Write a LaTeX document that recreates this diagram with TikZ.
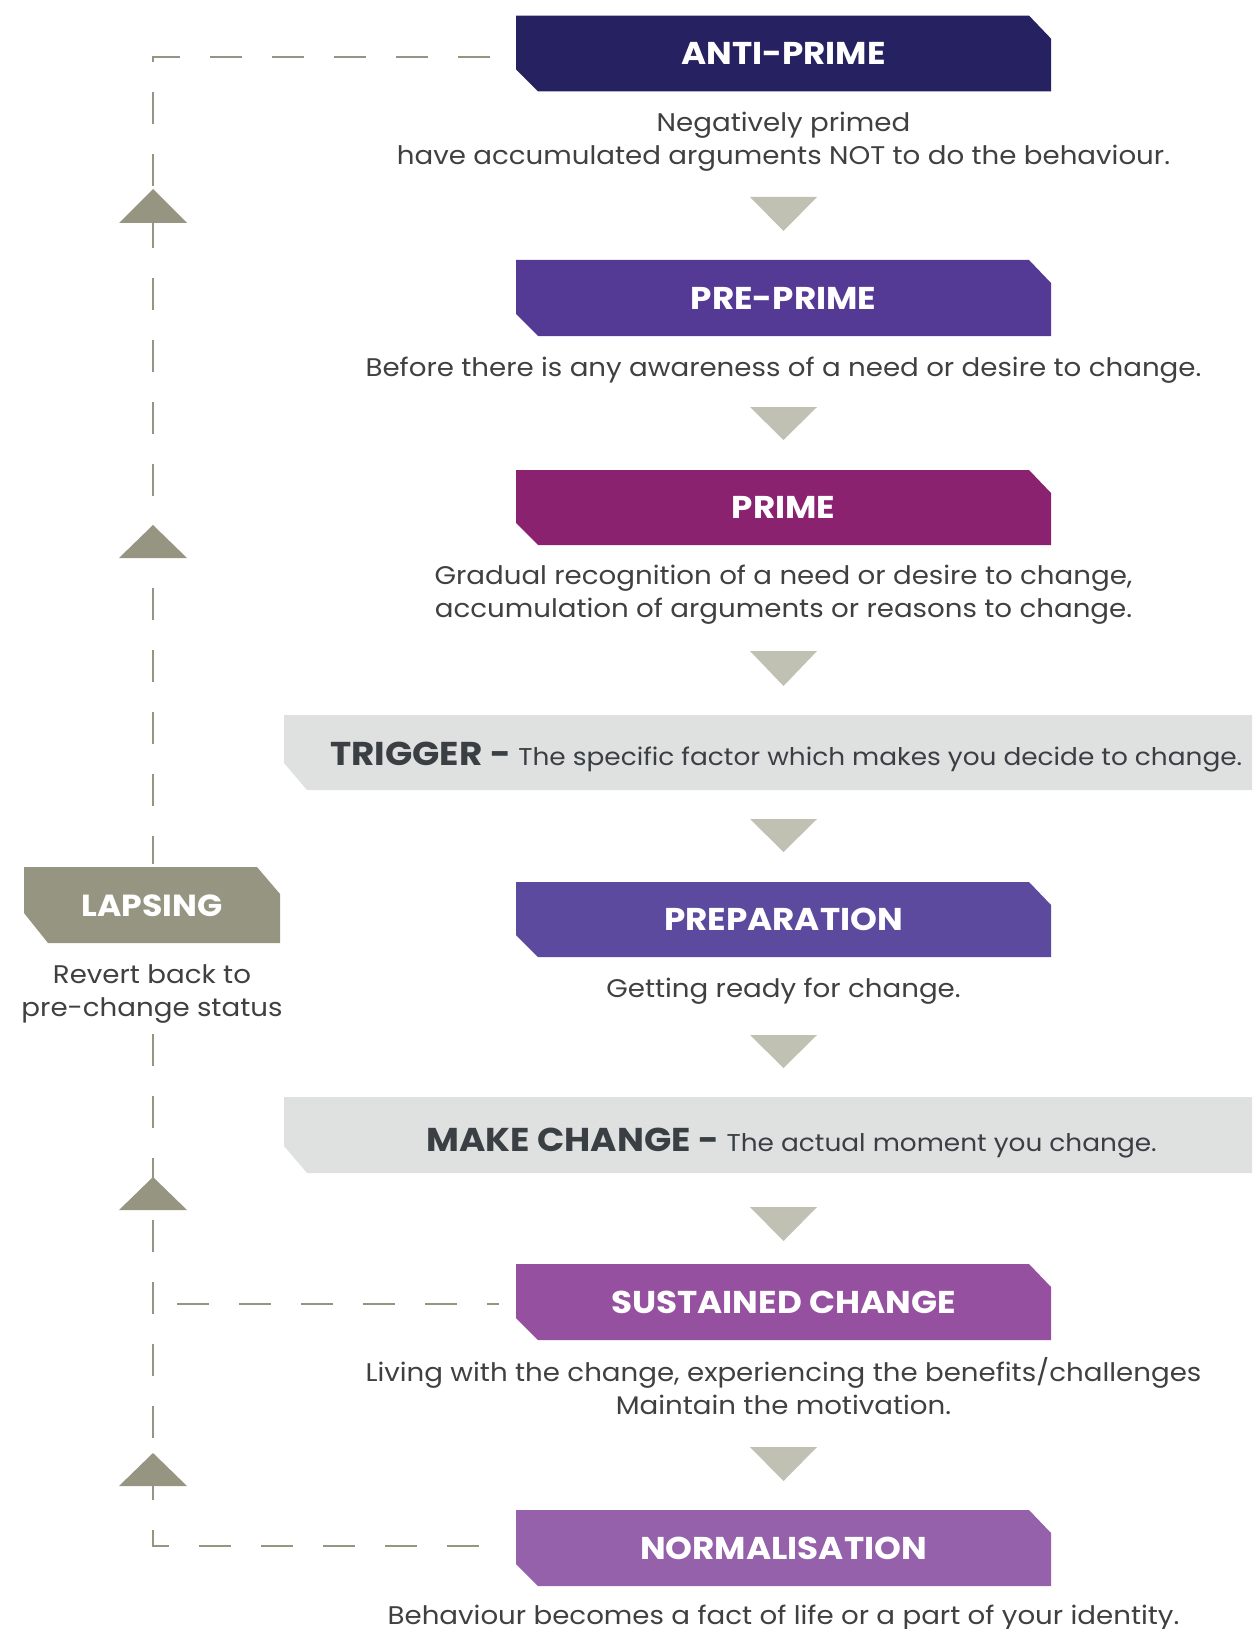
\documentclass[tikz,border=0pt]{standalone}
\usepackage{fontspec}
\setmainfont{Poppins}[FakeStretch=1.085]
\definecolor{cAnti}{HTML}{262262}
\definecolor{cPre}{HTML}{553A95}
\definecolor{cPrime}{HTML}{8A2270}
\definecolor{cPrep}{HTML}{5C4A9E}
\definecolor{cSust}{HTML}{9650A0}
\definecolor{cNorm}{HTML}{9461AA}
\definecolor{cBand}{HTML}{DEE1E0}
\definecolor{cBandTxt}{HTML}{3A3F44}
\definecolor{cDown}{HTML}{C0C0B3}
\definecolor{cOlive}{HTML}{959582}
\definecolor{cBody}{HTML}{404040}
\tikzset{
  stagelabel/.style={text=white,font=\fontsize{31.5}{36}\selectfont\bfseries,inner sep=0pt},
  desc/.style={text=cBody,font=\fontsize{25.5}{33}\selectfont,align=center,inner sep=0pt},
  bandhead/.style={text=cBandTxt,font=\fontsize{33}{38}\selectfont\bfseries,inner sep=0pt,anchor=base west},
  bandtext/.style={text=cBandTxt,font=\fontsize{24.3}{30}\selectfont,inner sep=0pt,anchor=base west},
  loopline/.style={draw=cOlive,line width=2.6pt,dash pattern=on 32pt off 30pt},
  downtri/.style={fill=cDown},
  uptri/.style={fill=cOlive}
}
\newcommand\stagebox[5]{%
  \fill[#2] (516,#3) -- (1029,#3) -- (1051,{#3+23}) -- (1051,#4) -- (538,#4) -- (516,{#4-22}) -- cycle;
  \node[stagelabel] (#1) at (783.5,{(#3+#4)/2}) {#5};}
\newcommand\downtri[3]{%
  \fill[downtri] (750,#2) -- (817,#2) -- (783.5,#3) -- cycle;
  \coordinate (#1) at (783.5,{(#2+#3)/2});}
\newcommand\uptri[3]{%
  \fill[uptri] (119,#3) -- (187,#3) -- (153,#2) -- cycle;
  \coordinate (#1) at (153,{(#2+#3)/2});}
\begin{document}
\begin{tikzpicture}[x=1pt,y=-1pt]
\useasboundingbox (0,0) rectangle (1252,1629);
% loop lines
\coordinate (topR) at (490,57);
\coordinate (topL) at (153,57);
\coordinate (lapTop) at (153,864);
\coordinate (lapBot) at (153,1034);
\coordinate (botL) at (153,1546);
\coordinate (botR) at (499,1546);
\coordinate (sustL) at (177,1304);
\coordinate (sustR) at (499,1304);
\draw[loopline] (topR) -- (topL) -- (lapTop);
\draw[loopline] (lapBot) -- (botL) -- (botR);
\draw[loopline] (sustL) -- (sustR);
% up triangles
\uptri{u1}{189}{223}
\uptri{u2}{525}{558}
\uptri{u3}{1177}{1210}
\uptri{u4}{1453}{1486}
% lapsing
\fill[cOlive] (24,867) -- (257,867) -- (280,894) -- (280,943) -- (48,943) -- (24,913) -- cycle;
\node[stagelabel,font=\fontsize{30.5}{36}\selectfont\bfseries] (lapsing) at (152,906) {LAPSING};
\node[desc] (lapsingd) at (152,994) {Revert back to\\pre-change status};
% stages
\stagebox{anti}{cAnti}{15.6}{91.4}{ANTI-PRIME}
\node[desc] (antid) at (783.5,142) {Negatively primed\\have accumulated arguments NOT to do the behaviour.};
\downtri{d1}{197}{231}
\stagebox{pre}{cPre}{260}{336}{PRE-PRIME}
\node[desc] (pred) at (783.5,370) {Before there is any awareness of a need or desire to change.};
\downtri{d2}{407}{440}
\stagebox{prime}{cPrime}{470}{545}{PRIME}
\node[desc] (primed) at (783.5,595) {Gradual recognition of a need or desire to change,\\accumulation of arguments or reasons to change.};
\downtri{d3}{651}{686}
% trigger band
\fill[cBand] (284,715) -- (1252,715) -- (1252,790) -- (307,790) -- (284,763) -- cycle;
\node[bandhead] (trig) at (330,765) {TRIGGER -};
\node[bandtext] (trigd) at (trig.base east) {\ The specific factor which makes you decide to change.};
\downtri{d4}{819}{852}
\stagebox{prep}{cPrep}{882}{957}{PREPARATION}
\node[desc] (prepd) at (783.5,991) {Getting ready for change.};
\downtri{d5}{1035}{1068}
% make change band
\fill[cBand] (284,1097) -- (1252,1097) -- (1252,1173) -- (307,1173) -- (284,1146) -- cycle;
\node[bandhead] (make) at (426,1151) {MAKE CHANGE -};
\node[bandtext] (maked) at (make.base east) {\ The actual moment you change.};
\downtri{d6}{1207}{1241}
\stagebox{sust}{cSust}{1264}{1340}{SUSTAINED CHANGE}
\node[desc] (sustd) at (783.5,1386) {Living with the change, experiencing the benefits/challenges\\Maintain the motivation.};
\downtri{d7}{1447}{1481}
\stagebox{norm}{cNorm}{1510}{1586}{NORMALISATION}
\node[desc] (normd) at (783.5,1618) {Behaviour becomes a fact of life or a part of your identity.};
\end{tikzpicture}
\end{document}
